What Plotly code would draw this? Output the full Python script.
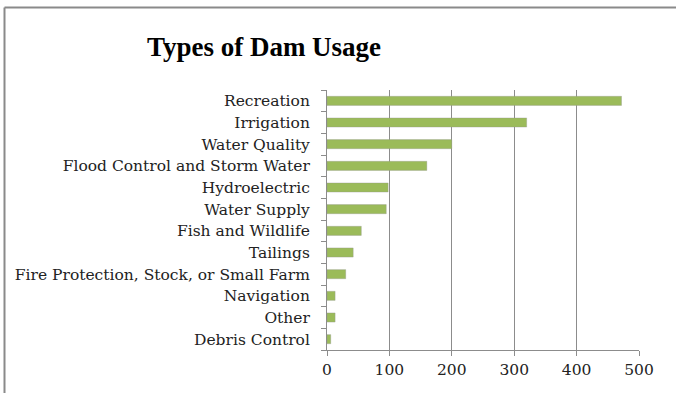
import plotly.graph_objects as go

categories = ["Recreation", "Irrigation", "Water Quality", "Flood Control and Storm Water",
              "Hydroelectric", "Water Supply", "Fish and Wildlife", "Tailings",
              "Fire Protection, Stock, or Small Farm", "Navigation", "Other", "Debris Control"]
values = [472, 320, 200, 160, 98, 95, 55, 42, 30, 13, 13, 6]
x_ticks = [0, 100, 200, 300, 400, 500]

fig = go.Figure()
fig.add_trace(go.Bar(
    y=categories, x=values, orientation="h",
    marker=dict(color="#9BBB59", line=dict(color="rgba(150,150,150,0.35)", width=1)),
    width=0.42,
))

W, H = 676, 393
L, R, T, B = 327, 37, 90, 43
pw = W - L - R
ph = H - T - B

def px_x(p):
    return (p - L) / pw

def px_y(p):
    return (H - B - p) / ph

fig.update_layout(
    width=W, height=H,
    margin=dict(l=L, r=R, t=T, b=B),
    paper_bgcolor="white", plot_bgcolor="white",
    showlegend=False,
    font=dict(family="DejaVu Serif, Liberation Serif, serif", size=15.5, color="#222"),
    title=dict(text="<b>Types of Dam Usage</b>", x=264 / W, xanchor="center",
               y=1 - 47 / H, yanchor="middle", xref="container", yref="container",
               font=dict(size=27, color="black", family="Liberation Serif, DejaVu Serif, serif")),
    xaxis=dict(range=[0, 500], tickvals=x_ticks, showgrid=True, gridcolor="#8c8c8c", gridwidth=1,
               showline=True, linecolor="#8c8c8c", linewidth=1, ticks="outside", ticklen=5,
               tickcolor="#8c8c8c", zeroline=False, fixedrange=True),
    yaxis=dict(categoryorder="array", categoryarray=categories[::-1], autorange=True,
               showline=True, linecolor="#8c8c8c", linewidth=1, ticks="outside", ticklen=5,
               tickcolor="#8c8c8c", tickson="boundaries", showgrid=False,
               ticklabelstandoff=13),
    shapes=[
        dict(type="line", xref="paper", yref="paper", x0=px_x(4.5), x1=px_x(W + 5),
             y0=px_y(7.5), y1=px_y(7.5), line=dict(color="#8a8a8a", width=2)),
        dict(type="line", xref="paper", yref="paper", x0=px_x(4.5), x1=px_x(4.5),
             y0=px_y(7.5), y1=px_y(H + 5), line=dict(color="#8a8a8a", width=2)),
    ],
)

fig.write_html("out.html")
